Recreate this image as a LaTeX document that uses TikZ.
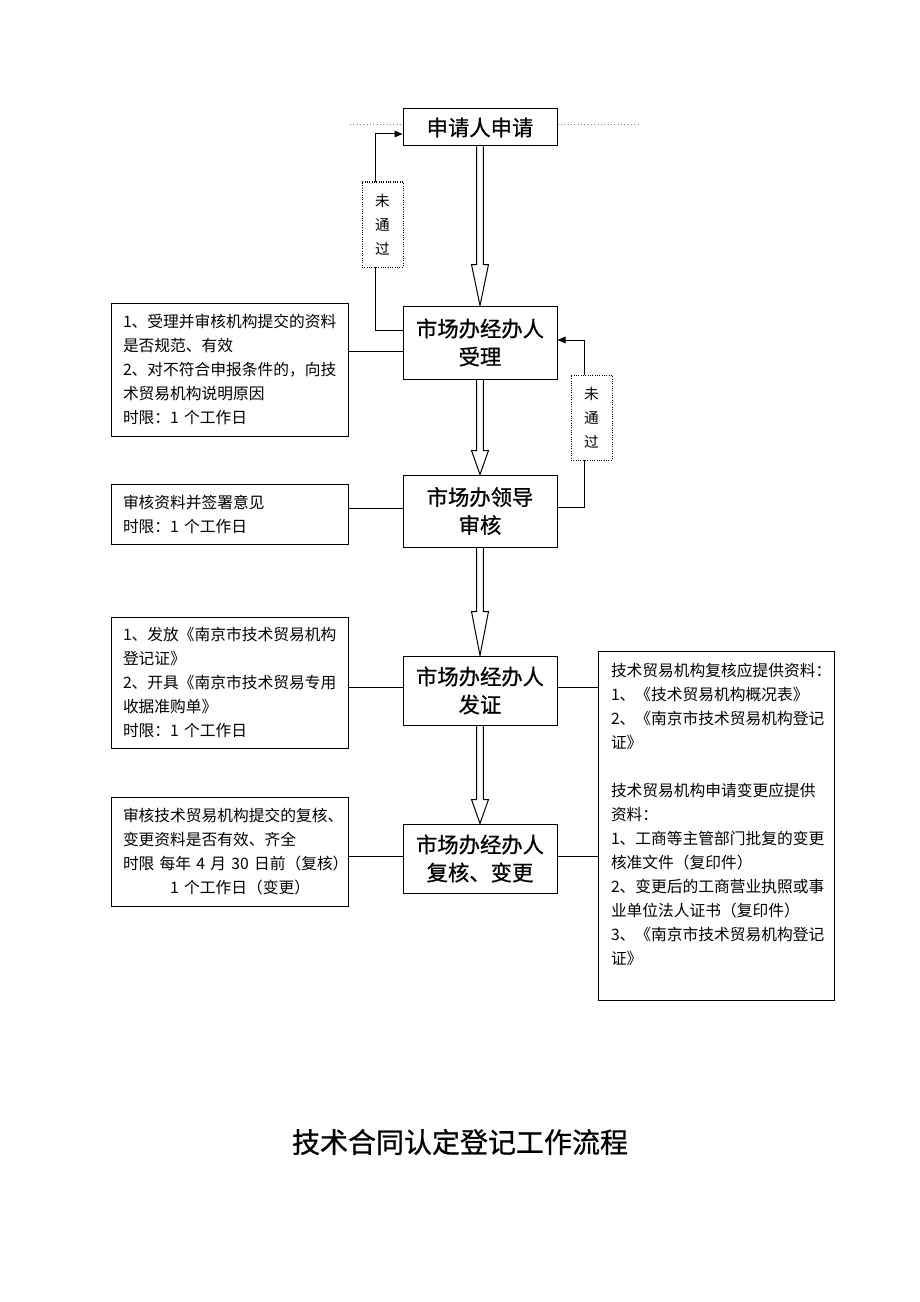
\documentclass[tikz,border=0pt]{standalone}
\usepackage{fontspec}
\newfontfamily\cjk{Noto Sans CJK SC}
\newfontfamily\cjkhei{Noto Sans CJK SC}[FakeBold=0.8]
\usetikzlibrary{arrows.meta,calc}

\tikzset{every picture/.style={line width=0.75pt}}
\tikzset{
  mainbox/.style={draw, fill=white, inner sep=0pt, minimum width=115.5pt, align=center, font=\cjkhei\fontsize{16}{21}\selectfont},
  notebox/.style={draw, inner xsep=9pt, inner ysep=0pt, minimum width=177.75pt, text width=159.75pt, align=left, font=\cjk\fontsize{11.8}{18}\selectfont},
  failbox/.style={draw, densely dotted, fill=white, inner sep=0pt, minimum width=30.75pt, minimum height=63.75pt, align=center, font=\cjk\fontsize{11}{18}\selectfont},
  failline/.style={-{Triangle[length=6pt,width=5pt]}},
}

% hollow double-line arrow: from node, to node, head length
\newcommand{\flowarrow}[3]{%
  \draw ($(#1.south)+(-3.3,0)$) -- ($(#2.north)+(-3.3,-#3)$) -- ($(#2.north)+(-8.5,-#3)$) -- (#2.north) -- ($(#2.north)+(8.5,-#3)$) -- ($(#2.north)+(3.3,-#3)$) -- ($(#1.south)+(3.3,0)$);%
}

\begin{document}
\begin{tikzpicture}[x=0.75pt,y=0.75pt,yscale=-1,xscale=1]
\useasboundingbox (0,0) rectangle (920,1302);

%Shape: Rectangle [main flow]
\draw (480,127.5) node (apply) [mainbox, minimum height=27.75pt] {申请人申请};
\draw (480,342.5) node (accept) [mainbox, minimum height=54.75pt] {市场办经办人\\受理};
\draw (480,511) node (review) [mainbox, minimum height=54pt] {市场办领导\\审核};
\draw (480,690.5) node (issue) [mainbox, minimum height=51.75pt] {市场办经办人\\发证};
\draw (480,858.5) node (recheck) [mainbox, minimum height=51.75pt] {市场办经办人\\复核、变更};

%Shape: Rectangle [notes]
\draw (229.5,369.5) node (note1) [notebox, minimum height=99.75pt] {1、受理并审核机构提交的资料\\是否规范、有效\\2、对不符合申报条件的，向技\\术贸易机构说明原因\\时限：1~个工作日};
\draw (229.5,514) node (note2) [notebox, minimum height=45pt] {审核资料并签署意见\\时限：1~个工作日};
\draw (229.5,682.5) node (note3) [notebox, minimum height=98.25pt] {1、发放《南京市技术贸易机构\\登记证》\\2、开具《南京市技术贸易专用\\收据准购单》\\时限：1~个工作日};
\draw (229.5,851.5) node (note4) [notebox, minimum height=81.75pt] {审核技术贸易机构提交的复核、\\变更资料是否有效、齐全\\时限~每年~4~月~30~日前（复核）\\\hspace*{3em}1~个工作日（变更）};
\draw (716,825.5) node (rules) [notebox, inner xsep=9.75pt, minimum width=177pt, text width=157.5pt, minimum height=261.75pt] {技术贸易机构复核应提供资料：\\1、《技术贸易机构概况表》\\2、《南京市技术贸易机构登记\\证》\\[18pt]技术贸易机构申请变更应提供\\资料：\\1、工商等主管部门批复的变更\\核准文件（复印件）\\2、变更后的工商营业执照或事\\业单位法人证书（复印件）\\3、《南京市技术贸易机构登记\\证》\\\mbox{}};

%Straight Lines
\draw [gray, dotted, line width=0.5pt] (350,124) -- (apply.west |- 0,124);
\draw [gray, dotted, line width=0.5pt] (apply.east |- 0,124) -- (638,124);
\draw (note1.east |- 0,351) -- (accept.west |- 0,351);
\draw (note2.east |- 0,508) -- (review.west |- 0,508);
\draw (note3.east |- 0,687) -- (issue.west |- 0,687);
\draw (note4.east |- 0,856) -- (recheck.west |- 0,856);
\draw (issue.east |- 0,687) -- (rules.west |- 0,687);
\draw (recheck.east |- 0,856) -- (rules.west |- 0,856);

%Straight Lines [back loops]
\coordinate (back1) at (375,134);
\draw [failline] (accept.west |- 0,330) -| (back1) -- (apply.west |- back1);
\coordinate (back2) at (584,340);
\draw [failline] (review.east |- 0,507) -| (back2) -- (accept.east |- back2);

% Text Node
\draw (382.5,224.5) node (fail1) [failbox] {未\\通\\过};
\draw (591.5,417.5) node (fail2) [failbox] {未\\通\\过};

%Shape: Arrows
\flowarrow{apply}{accept}{41}
\flowarrow{accept}{review}{24}
\flowarrow{review}{issue}{44}
\flowarrow{issue}{recheck}{24}

% Text Node
\draw (460,1142) node (title) [font=\cjkhei\fontsize{21}{21}\selectfont] {技术合同认定登记工作流程};

\end{tikzpicture}
\end{document}
